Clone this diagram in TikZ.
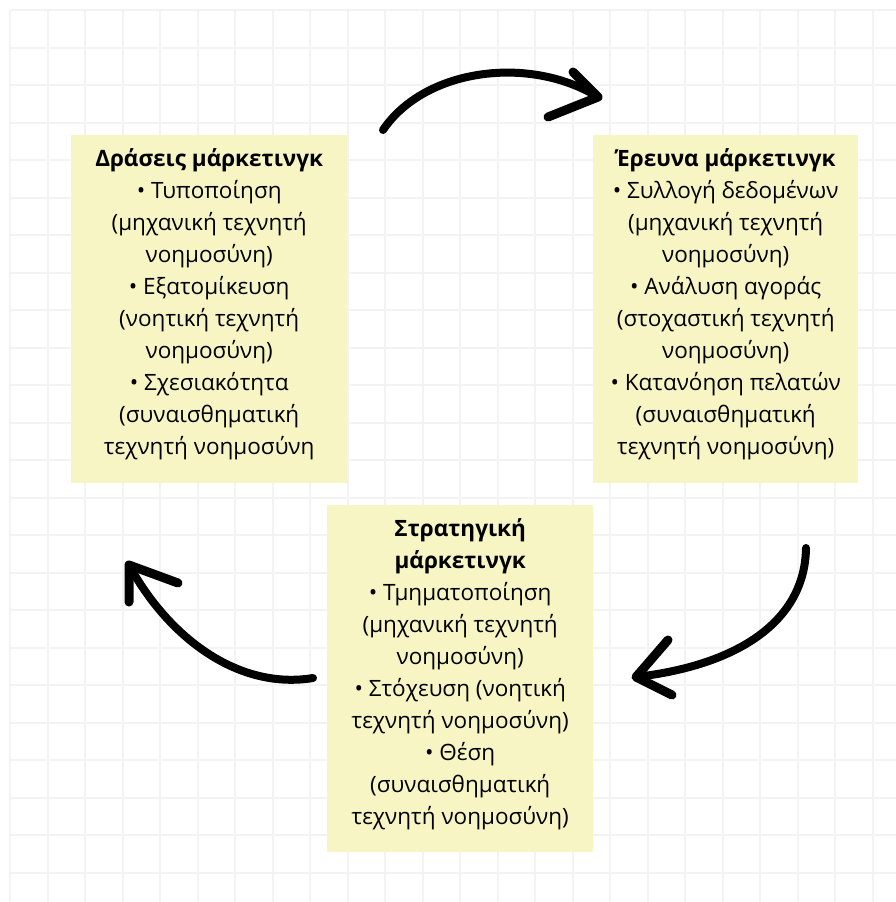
\documentclass[tikz,border=0pt]{standalone}
\usepackage{fontspec}
\setmainfont{Open Sans}
\definecolor{cardyellow}{HTML}{F8F5C5}
\definecolor{gridgray}{HTML}{F3F3F3}
\tikzset{
  card/.style={fill=cardyellow, draw=none, anchor=north west, inner sep=0pt},
  cardtext/.style={anchor=north, align=center, inner sep=0pt,
    font=\fontsize{22.5}{32}\selectfont},
  sketch/.style={line width=8pt, line cap=round},
  barb/.style={line width=9pt, line cap=round, line join=round},
}

\begin{document}
\begin{tikzpicture}[x=1pt, y=-1pt]

\newcommand\GRID{37.5}

  \useasboundingbox (0,0) rectangle (896,902);
  \fill[white] (0,0) rectangle (896,902);

  %% grid
  \foreach \k in {0,...,23} {
    \draw[gridgray, line width=2pt] (10+\k*\GRID, 10) -- (10+\k*\GRID, 902);
    \draw[gridgray, line width=2pt] (10, 10+\k*\GRID) -- (896, 10+\k*\GRID);
  }

  %% cards
  \node[card, minimum width=276pt, minimum height=348pt] (acts) at (71,135) {};
  \node[card, minimum width=265pt, minimum height=348pt] (research) at (593,135) {};
  \node[card, minimum width=266pt, minimum height=347pt] (strategy) at (327,505) {};

  \node[cardtext] (acts text) at ([yshift=-13pt]acts.north)
  {\textbf{Δράσεις μάρκετινγκ}\\• Τυποποίηση\\(μηχανική τεχνητή\\νοημοσύνη)\\
   • Εξατομίκευση\\(νοητική τεχνητή\\νοημοσύνη)\\• Σχεσιακότητα\\
   (συναισθηματική\\τεχνητή νοημοσύνη};
  \node[cardtext] (research text) at ([yshift=-13pt]research.north)
  {\textbf{Έρευνα μάρκετινγκ}\\• Συλλογή δεδομένων\\(μηχανική τεχνητή\\νοημοσύνη)\\
   • Ανάλυση αγοράς\\(στοχαστική τεχνητή\\νοημοσύνη)\\• Κατανόηση πελατών\\
   (συναισθηματική\\τεχνητή νοημοσύνη)};
  \node[cardtext] (strategy text) at ([yshift=-13pt]strategy.north)
  {\textbf{Στρατηγική}\\\textbf{μάρκετινγκ}\\• Τμηματοποίηση\\(μηχανική τεχνητή\\
   νοημοσύνη)\\• Στόχευση (νοητική\\τεχνητή νοημοσύνη)\\• Θέση\\
   (συναισθηματική\\τεχνητή νοημοσύνη)};

  %% arrows
  \coordinate (top start) at (383,130);
  \coordinate (top tip) at (598,97);
  \coordinate (top arm a) at (573,72);
  \coordinate (top arm b) at (548,117);
  \draw[sketch] (top start) .. controls (425,68) and (530,55) .. (top tip);
  \draw[barb] (top arm a) -- (top tip) -- (top arm b);

  \coordinate (right start) at (806,548);
  \coordinate (right tip) at (636,677);
  \coordinate (right arm a) at (668,640);
  \coordinate (right arm b) at (672,695);
  \draw[sketch] (right start) .. controls (805,620) and (740,665) .. (right tip);
  \draw[barb] (right arm a) -- (right tip) -- (right arm b);

  \coordinate (left start) at (313,678);
  \coordinate (left tip) at (129,565);
  \coordinate (left arm a) at (129,602);
  \coordinate (left arm b) at (178,583);
  \draw[sketch] (left start) .. controls (240,690) and (170,640) .. (left tip);
  \draw[barb] (left arm a) -- (left tip) -- (left arm b);

\end{tikzpicture}
\end{document}
